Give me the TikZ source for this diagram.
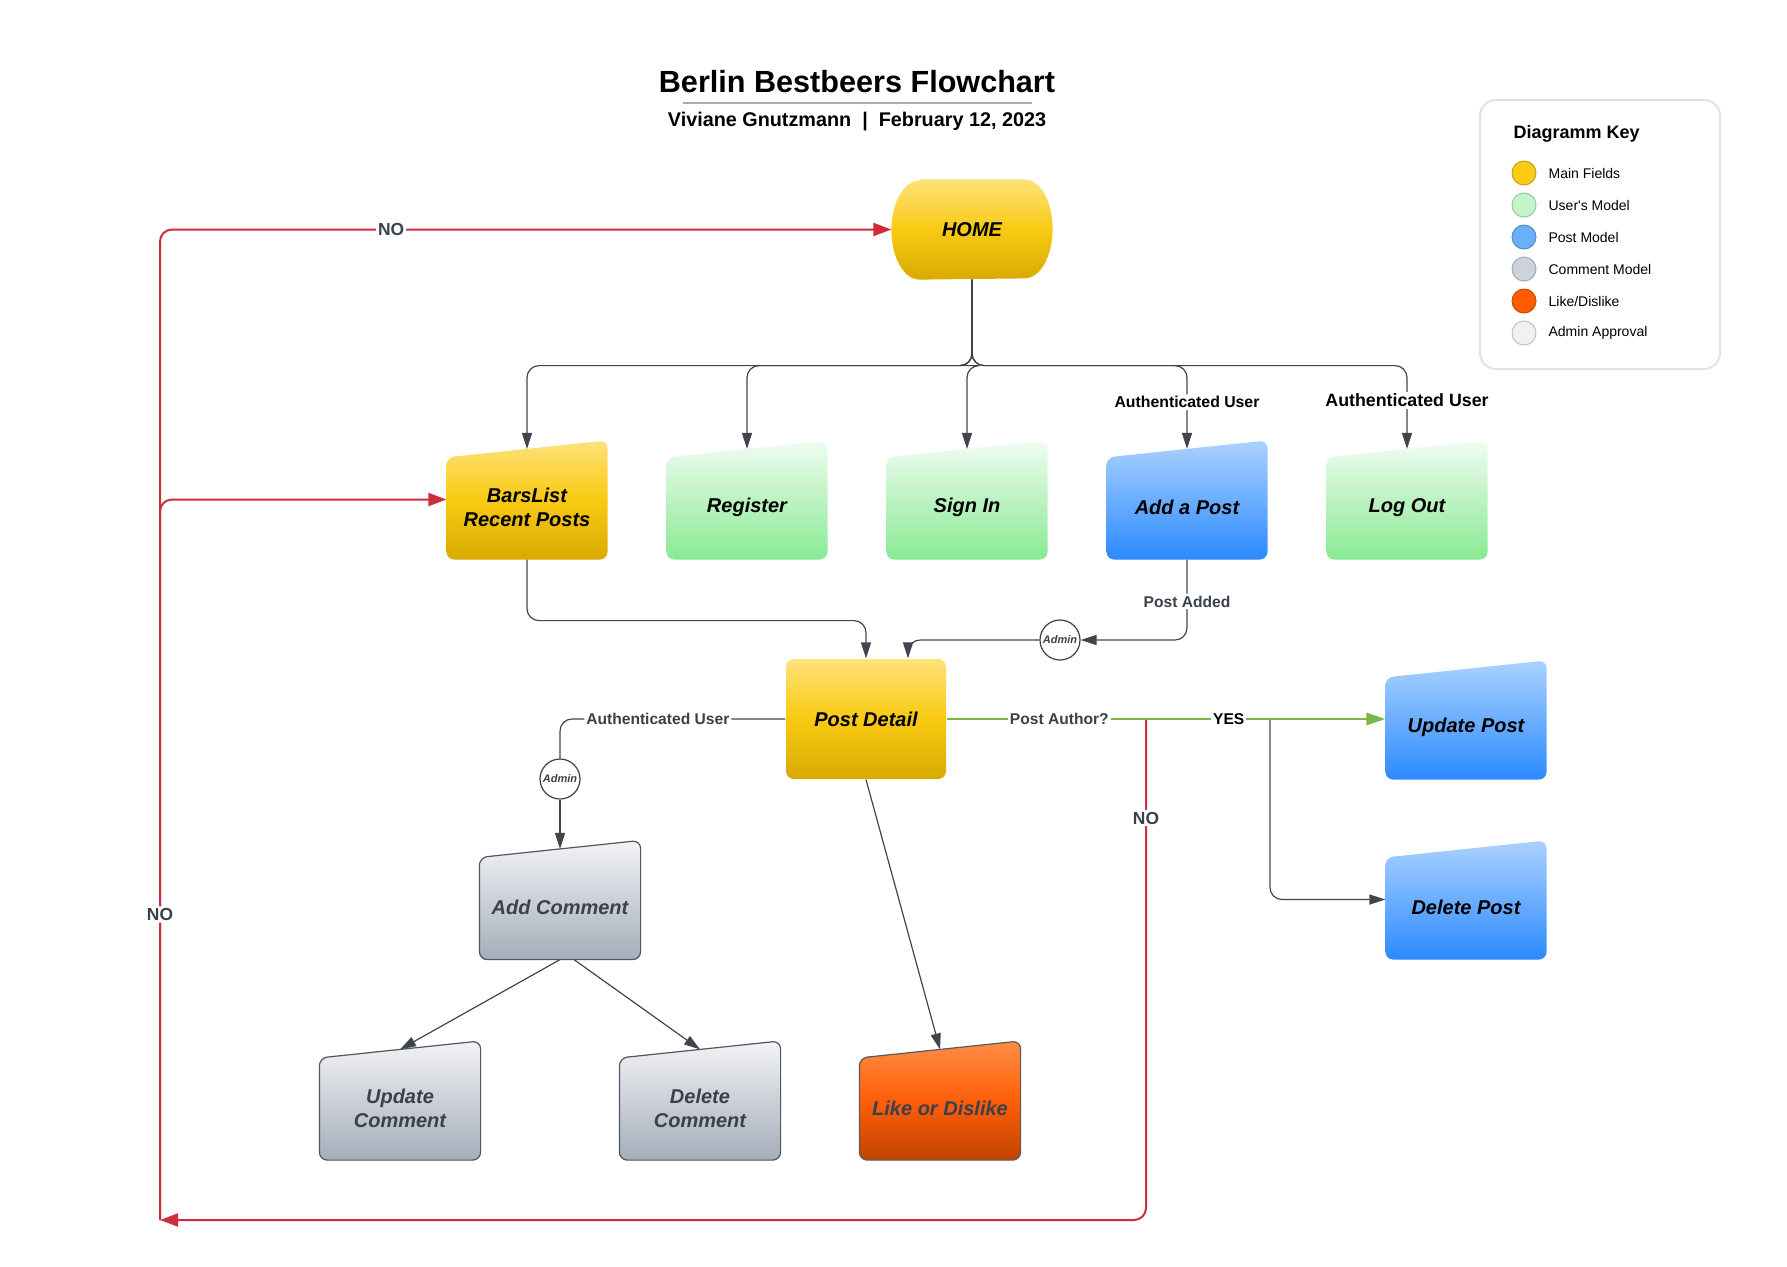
\documentclass[tikz,border=0pt]{standalone}
\usepackage{fontspec}
\setmainfont{Liberation Sans}
\usepackage[usenames,dvipsnames]{xcolor}
\definecolor{slate}{HTML}{3A414A}
\definecolor{linegray}{HTML}{40454D}
\definecolor{redline}{HTML}{CC2E3B}
\definecolor{greenline}{HTML}{7AB648}
\definecolor{keyedge}{HTML}{DFE2E7}
\definecolor{underline}{HTML}{A4ABB6}
\definecolor{mainA}{HTML}{FFE27A}
\definecolor{mainB}{HTML}{F8CA12}
\definecolor{mainC}{HTML}{D8AA02}
\definecolor{userA}{HTML}{F1FCF2}
\definecolor{userB}{HTML}{88EA93}
\definecolor{postA}{HTML}{ABD2FF}
\definecolor{postB}{HTML}{2B8AFF}
\definecolor{comA}{HTML}{F2F3F5}
\definecolor{comB}{HTML}{A5ADB9}
\definecolor{comEdge}{HTML}{4F5661}
\definecolor{likeA}{HTML}{FF8D45}
\definecolor{likeB}{HTML}{FF5F0A}
\definecolor{likeC}{HTML}{BF4300}
\definecolor{likeEdge}{HTML}{5A5A5A}
\definecolor{keyA}{HTML}{F9CB14}
\definecolor{keyB}{HTML}{C3F4CB}
\definecolor{keyC}{HTML}{6BAFFB}
\definecolor{keyD}{HTML}{CDD3DA}
\definecolor{keyE}{HTML}{FF5C01}
\definecolor{keyF}{HTML}{F0F1F3}
\usepackage{tikz}
\usetikzlibrary{arrows.meta,backgrounds,calc}

% manual input box behind a node
\newcommand{\drawinput}[2]{\path[-,#2,rounded corners=4pt] (#1.south west) -- ([yshift=-1pt]#1.north west) -- ([yshift=7.5pt]#1.north east) -- (#1.south east) -- cycle;}

\begin{document}
\begin{tikzpicture}[->,>={Triangle[length=8pt,width=5pt]},x=0.5pt,y=-0.5pt,
                    node distance=110pt,line width=0.6pt]
  \tikzstyle{box}=[rectangle,minimum width=80pt,minimum height=51.5pt,align=center,
                   font=\bfseries\itshape\fontsize{10}{12}\selectfont]
  \tikzstyle{lbl}=[fill=white,inner sep=1pt,text=slate,font=\bfseries\fontsize{7.8}{9}\selectfont]
  \tikzstyle{nolbl}=[lbl,font=\bfseries\fontsize{8.7}{10}\selectfont]
  \tikzstyle{admin}=[circle,draw=slate,fill=white,minimum size=20pt,inner sep=0pt,
                     text=slate,font=\bfseries\itshape\fontsize{5.5}{6}\selectfont]
  \tikzstyle{link}=[draw=linegray,rounded corners=6pt]
  \tikzstyle{noline}=[draw=redline,line width=1pt,rounded corners=6pt,>={Triangle[length=9pt,width=6.5pt]}]
  \tikzstyle{yesline}=[draw=greenline,line width=1.4pt,>={Triangle[length=9.5pt,width=6pt]}]
  \tikzstyle{mainfill}=[top color=mainA,bottom color=mainC,middle color=mainB]
  \tikzstyle{userfill}=[top color=userA,bottom color=userB]
  \tikzstyle{postfill}=[top color=postA,bottom color=postB]
  \tikzstyle{commentfill}=[top color=comA,bottom color=comB,draw=comEdge,line width=0.6pt]
  \tikzstyle{likefill}=[top color=likeA,bottom color=likeC,middle color=likeB,draw=likeEdge,line width=0.6pt]
  \tikzstyle{keydot}=[circle,minimum size=12pt,inner sep=0pt,line width=0.5pt]
  \tikzstyle{keytext}=[anchor=west,inner sep=0pt,font=\fontsize{7}{8}\selectfont]

  \useasboundingbox (0,0) rectangle (1787,1266);

  % title
  \node[font=\bfseries\fontsize{15.3}{18}\selectfont] (title) at (857,82) {Berlin Bestbeers Flowchart};
  \node[font=\bfseries\fontsize{9.9}{12}\selectfont] (subtitle) at (857,122) {Viviane Gnutzmann~~|~~February 12, 2023};
  \draw[-,draw=underline,line width=1.2pt] (683,103) -- (1032,103);

  % key
  \draw[-,draw=keyedge,line width=1pt,rounded corners=8pt] (1480,100) rectangle (1720,369);
  \node[anchor=west,inner sep=0pt,font=\bfseries\fontsize{9}{11}\selectfont] (keytitle) at (1513,134) {Diagramm Key};
  \foreach \c/\t [count=\i] in {keyA/{Main Fields},keyB/{User\textquotesingle s Model},keyC/{Post Model},
                                keyD/{Comment Model},keyE/{Like/Dislike},keyF/{Admin Approval}} {
    \node[keydot,fill=\c,draw=\c!80!black] (dot\i) at (1524,{141+32*\i}) {};
    \node[keytext] (key\i) at (1548,{141+32*\i}) {\t};
  }

  % nodes
  \node[box,minimum height=49.5pt] (home) at (972,229.5) {HOME};

  \node[box] (bars) at (527,507.5) {BarsList\\Recent Posts};
  \node[box] (reg) [right of=bars] {Register};
  \node[box] (signin) [right of=reg] {Sign In};
  \node[box] (addpost) [right of=signin] {Add a Post};
  \node[box] (logout) [right of=addpost] {Log Out};

  \node[box,mainfill,rounded corners=4pt,minimum height=60pt] (postdetail) at (866,719) {Post Detail};
  \node[box] (updatepost) at (1466,727.5) {Update Post};
  \node[box] (deletepost) [below of=updatepost,node distance=90pt] {Delete Post};

  \node[box,text=slate] (addcomment) at (560,907.5) {Add Comment};
  \node[box,text=slate] (ucomment) at (400,1108) {Update\\Comment};
  \node[box,text=slate] (dcomment) [right of=ucomment,node distance=150pt] {Delete\\Comment};
  \node[box,text=slate] (like) [right of=dcomment,node distance=120pt] {Like or Dislike};

  \node[admin] (admin1) at (1060,640) {Admin};
  \node[admin] (admin2) at (560,779) {Admin};

  \coordinate (nosplit) at (1146,720);
  \coordinate (delsplit) at (1270,720);
  \coordinate (nohub) at (160,1220);

  % shapes
  \begin{scope}[on background layer]
    \path[-,mainfill] ([xshift=14pt]home.north west) -- ([xshift=-14pt]home.north east)
      arc[start angle=90,end angle=-90,x radius=14pt,y radius=24.75pt]
      -- ([xshift=14pt]home.south west)
      arc[start angle=270,end angle=90,x radius=14pt,y radius=24.75pt] -- cycle;
    \drawinput{bars}{mainfill}
    \drawinput{reg}{userfill}
    \drawinput{signin}{userfill}
    \drawinput{addpost}{postfill}
    \drawinput{logout}{userfill}
    \drawinput{updatepost}{postfill}
    \drawinput{deletepost}{postfill}
    \drawinput{addcomment}{commentfill}
    \drawinput{ucomment}{commentfill}
    \drawinput{dcomment}{commentfill}
    \drawinput{like}{likefill}
  \end{scope}

  % connectors
  \foreach \n in {bars,reg,signin}
    \draw[link] (home.south) -- ++(0,86) -| ([yshift=3.25pt]\n.north);
  \draw[link] (home.south) -- ++(0,86) -| node[lbl,pos=0.72,text=black,font=\bfseries\fontsize{7.9}{9}\selectfont] {Authenticated User} ([yshift=3.25pt]addpost.north);
  \draw[link] (home.south) -- ++(0,86) -| node[lbl,pos=0.71,text=black,font=\bfseries\fontsize{8.9}{10}\selectfont] {Authenticated User} ([yshift=3.25pt]logout.north);

  \draw[link] (bars.south) -- ++(0,61) -| (postdetail.north);
  \draw[link] (addpost.south) |- node[lbl,pos=0.26] {Post Added} (admin1.east);
  \draw[link] (admin1.west) -| ([xshift=21pt]postdetail.north);

  \draw[link,-] (postdetail.west) -| node[lbl,pos=0.283] {Authenticated User} (admin2.north);
  \draw[link] (admin2.south) -- ([yshift=3.25pt]addcomment.north);
  \draw[link] (addcomment.south) -- ([yshift=3.25pt]ucomment.north);
  \draw[link] ([xshift=7pt]addcomment.south) -- ([yshift=3.25pt]dcomment.north);
  \draw[link] (postdetail.south) -- ([yshift=3.25pt]like.north);

  \draw[link] (delsplit) |- ([yshift=4pt]deletepost.west);
  \draw[yesline] (postdetail.east) -- node[lbl,pos=0.257] {Post Author?}
    node[lbl,pos=0.643,text=black] {YES} (postdetail.east -| updatepost.west);

  \draw[noline] (nosplit) -- node[nolbl,pos=0.196] {NO} (nosplit |- nohub) -- (nohub);
  \draw[noline] (nohub) |- node[nolbl,pos=0.658] {NO} (home.west);
  \draw[noline] (nohub) |- node[nolbl,pos=0.212] {NO} ([yshift=4pt]bars.west);
\end{tikzpicture}
\end{document}
